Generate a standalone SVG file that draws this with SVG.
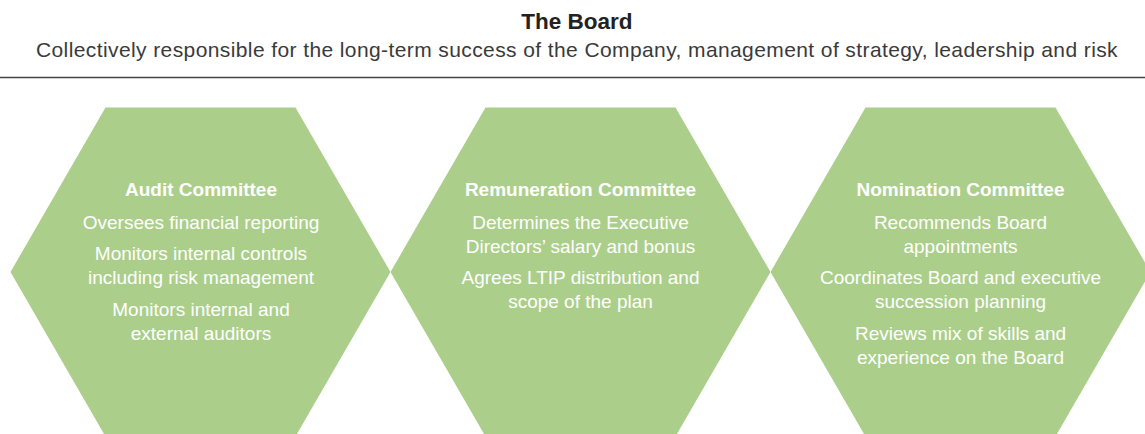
<svg xmlns="http://www.w3.org/2000/svg" width="1145" height="434" viewBox="0 0 1145 434">
  <style>
    .title { font-family: "Liberation Sans", Arial, sans-serif; font-size: 22.5px; font-weight: bold; fill: #222222; text-anchor: middle; }
    .subtitle { font-family: "Liberation Sans", Arial, sans-serif; font-size: 21px; letter-spacing: 0.4px; fill: #3a3a3a; text-anchor: middle; }
    .hex { fill: #abcf8a; }
    .head { font-family: "Liberation Sans", Arial, sans-serif; font-size: 19px; font-weight: bold; fill: #ffffff; text-anchor: middle; }
    .body { font-family: "Liberation Sans", Arial, sans-serif; font-size: 19px; fill: #ffffff; text-anchor: middle; }
  </style>
  <defs>
    <!-- regular hexagon, flat top, centred on the origin -->
    <polygon id="hexShape" class="hex" points="-95,-164.5 95,-164.5 190,0 95,164.5 -95,164.5 -190,0"/>
  </defs>

  <g id="board">
    <text class="title" x="577" y="29">The Board</text>
    <text class="subtitle" x="577" y="57">Collectively responsible for the long-term success of the Company, management of strategy, leadership and risk</text>
    <line x1="0" y1="77.5" x2="1145" y2="77.5" stroke="#444444" stroke-width="1.5"/>
  </g>

  <g id="audit-committee">
    <use href="#hexShape" x="200.5" y="272"/>
    <text class="head" x="201" y="196">Audit Committee</text>
    <text class="body" x="201" y="229">Oversees financial reporting</text>
    <text class="body" x="201" y="260">Monitors internal controls</text>
    <text class="body" x="201" y="284">including risk management</text>
    <text class="body" x="201" y="316">Monitors internal and</text>
    <text class="body" x="201" y="340">external auditors</text>
  </g>

  <g id="remuneration-committee">
    <use href="#hexShape" x="580.5" y="272"/>
    <text class="head" x="580.5" y="196">Remuneration Committee</text>
    <text class="body" x="580.5" y="229">Determines the Executive</text>
    <text class="body" x="580.5" y="253">Directors’ salary and bonus</text>
    <text class="body" x="580.5" y="284">Agrees LTIP distribution and</text>
    <text class="body" x="580.5" y="308">scope of the plan</text>
  </g>

  <g id="nomination-committee">
    <use href="#hexShape" x="960.5" y="272"/>
    <text class="head" x="960.5" y="196">Nomination Committee</text>
    <text class="body" x="960.5" y="229">Recommends Board</text>
    <text class="body" x="960.5" y="253">appointments</text>
    <text class="body" x="960.5" y="284">Coordinates Board and executive</text>
    <text class="body" x="960.5" y="308">succession planning</text>
    <text class="body" x="960.5" y="340">Reviews mix of skills and</text>
    <text class="body" x="960.5" y="364">experience on the Board</text>
  </g>

  <g id="connectors"></g>
</svg>
